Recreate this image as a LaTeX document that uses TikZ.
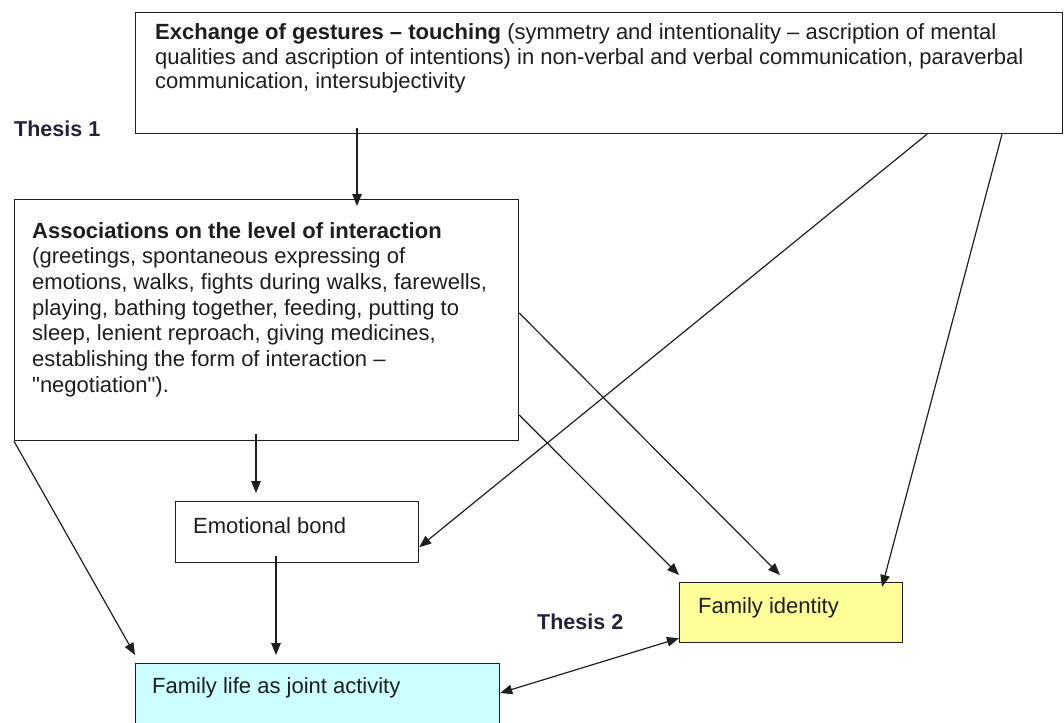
\documentclass[tikz,border=0pt]{standalone}
\usepackage{fontspec}
\setmainfont{Liberation Sans}
\newfontfamily\plainsans{Liberation Sans}
\usetikzlibrary{arrows.meta}
\definecolor{ink}{HTML}{1E1E1E}
\definecolor{thesis}{HTML}{22223A}
\definecolor{cyanfill}{HTML}{CCFFFF}
\definecolor{yellowfill}{HTML}{FFFF99}
\newcommand{\sq}{{\plainsans"}}
\tikzset{
  box/.style={draw=ink, line width=1.2pt, rectangle, anchor=north west, inner sep=0pt},
  txt/.style={anchor=base west, inner sep=0pt, align=left, text=ink, font=\fontsize{22}{25.7}\selectfont},
  toptxt/.style={txt, font=\fontsize{22}{24.2}\selectfont},
  thesislabel/.style={anchor=base west, inner sep=0pt, text=thesis, font=\fontsize{21.5}{24}\selectfont\bfseries},
  arr/.style={draw=ink, line width=1.2pt, -{Triangle[length=12pt,width=9.5pt]}},
  dblarr/.style={draw=ink, line width=1.2pt, {Triangle[length=12pt,width=9.5pt]}-{Triangle[length=12pt,width=9.5pt]}}
}
\begin{document}
\begin{tikzpicture}[x=1pt, y=-1pt]
\clip (0,0) rectangle (1064,722);
\fill[white] (0,0) rectangle (1064,722);

% boxes
\node[box, minimum width=927pt, minimum height=121pt] (top) at (135,12) {};
\node[box, minimum width=504pt, minimum height=241pt] (assoc) at (14,199) {};
\node[box, minimum width=243pt, minimum height=61pt] (emo) at (175,501) {};
\node[box, fill=cyanfill, minimum width=364pt, minimum height=90pt] (fl) at (135,663) {};
\node[box, fill=yellowfill, minimum width=223pt, minimum height=60pt] (fi) at (679,582) {};

% texts (multi-line nodes: base anchor is the baseline of the last line)
\node[toptxt] (toptext) at (155,88.4) {\textbf{Exchange of gestures – touching} (symmetry and intentionality – ascription of mental\\qualities and ascription of intentions) in non-verbal and verbal communication, paraverbal\\communication, intersubjectivity};
\node[txt] (assoctext) at (32,392.2) {\textbf{Associations on the level of interaction}\\(greetings, spontaneous expressing of\\emotions, walks, fights during walks, farewells,\\playing, bathing together, feeding, putting to\\sleep, lenient reproach, giving medicines,\\establishing the form of interaction –\\\sq negotiation\sq).};
\node[txt] (emotext) at (193,533) {Emotional bond};
\node[txt] (fltext) at (152,693) {Family life as joint activity};
\node[txt] (fitext) at (698,613) {Family identity};
\node[thesislabel] (t1) at (14,137) {Thesis 1};
\node[thesislabel] (t2) at (537,629) {Thesis 2};

% connectors
\draw[arr] ([shift={(222,-6)}]top.south west) -- ([shift={(343,7)}]assoc.north west);
\draw[arr] ([shift={(242,-7)}]assoc.south west) -- ([shift={(81,-8)}]emo.north west);
\draw[arr] ([shift={(101,-7)}]emo.south west) -- ([shift={(141,-8)}]fl.north west);
\draw[arr] (assoc.south west) -- ([shift={(0,-8)}]fl.north west);
\draw[arr] ([shift={(792,0)}]top.south west) -- ([shift={(0,-16)}]emo.south east);
\draw[arr] ([shift={(867,0)}]top.south west) -- ([shift={(203,5)}]fi.north west);
\draw[arr] ([shift={(0,114)}]assoc.north east) -- ([shift={(101,-7)}]fi.north west);
\draw[arr] ([shift={(0,216)}]assoc.north east) -- ([shift={(0,-7)}]fi.north west);
\draw[dblarr] ([shift={(0,30)}]fl.north east) -- ([shift={(0,-5)}]fi.south west);
\end{tikzpicture}
\end{document}
